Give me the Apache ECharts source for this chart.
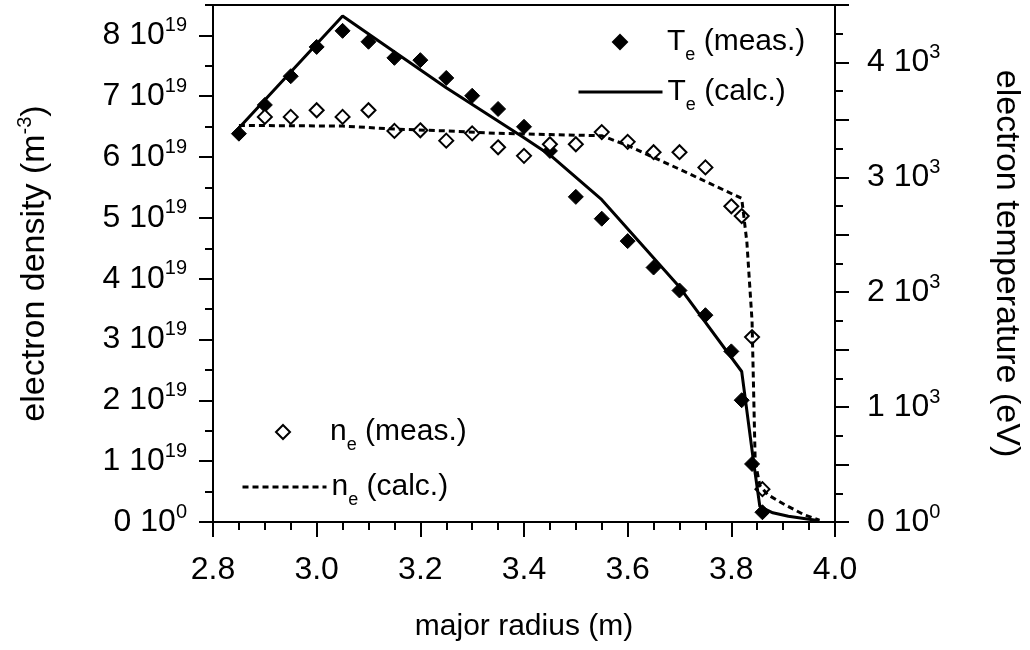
<!DOCTYPE html>
<html>
<head>
<meta charset="utf-8">
<script src="https://cdn.jsdelivr.net/npm/echarts@6/dist/echarts.min.js"></script>
<style>
html, body { margin: 0; padding: 0; background: #fff; }
#chart { width: 1030px; height: 650px; }
</style>
</head>
<body>
<div id="chart"></div>
<script>
// Te measured (eV)
var teMeasR = [2.85, 2.90, 2.95, 3.00, 3.05, 3.10, 3.15, 3.20, 3.25, 3.30, 3.35, 3.40, 3.45, 3.50, 3.55, 3.60, 3.65, 3.70, 3.75, 3.80, 3.82, 3.84, 3.86];
var teMeas = [3380, 3630, 3880, 4135, 4275, 4180, 4040, 4020, 3865, 3710, 3595, 3440, 3230, 2830, 2640, 2445, 2215, 2015, 1800, 1485, 1060, 505, 85];
// Te calculated (eV)
var teCalcR = [2.85, 3.05, 3.25, 3.40, 3.45, 3.55, 3.70, 3.82, 3.843, 3.855, 3.88, 3.91, 3.97];
var teCalc = [3430, 4405, 3780, 3345, 3195, 2805, 2045, 1310, 520, 135, 80, 50, 10];
// ne measured (10^19 m^-3)
var neMeasR = [2.90, 2.95, 3.00, 3.05, 3.10, 3.15, 3.20, 3.25, 3.30, 3.35, 3.40, 3.45, 3.50, 3.55, 3.60, 3.65, 3.70, 3.75, 3.80, 3.82, 3.84, 3.86];
var neMeas = [6.66, 6.66, 6.77, 6.66, 6.77, 6.43, 6.44, 6.27, 6.39, 6.16, 6.02, 6.21, 6.21, 6.41, 6.25, 6.08, 6.08, 5.83, 5.19, 5.03, 3.04, 0.54];
// ne calculated (10^19 m^-3)
var neCalcR = [2.85, 3.05, 3.15, 3.25, 3.35, 3.45, 3.55, 3.60, 3.70, 3.82, 3.83, 3.84, 3.846, 3.855, 3.87, 3.90, 3.94, 3.97];
var neCalc = [6.52, 6.51, 6.46, 6.43, 6.39, 6.37, 6.35, 6.19, 5.80, 5.32, 4.60, 3.30, 1.00, 0.60, 0.45, 0.30, 0.12, 0.03];

// axis ticks
var neMajorTicks = [0, 1, 2, 3, 4, 5, 6, 7, 8];
var teMajorTicks = [0, 500, 1000, 1500, 2000, 2500, 3000, 3500, 4000, 4500];
var teLabelTicks = [0, 1000, 2000, 3000, 4000];

function pairs(xs, ys) {
	var out = [];
	for (var i = 0; i < xs.length; i++) out.push([xs[i], ys[i]]);
	return out;
}

var FONT = '"Liberation Sans", Arial, Helvetica, sans-serif';
var supRich = {
	b: { fontSize: 32, lineHeight: 40, fontFamily: FONT, color: '#000' },
	p: { fontSize: 20, lineHeight: 20, verticalAlign: 'top', fontFamily: FONT, color: '#000' }
};
var legRich = {
	m: { fontSize: 30, lineHeight: 44, fontFamily: FONT, color: '#000' },
	s: { fontSize: 18, lineHeight: 18, verticalAlign: 'bottom', fontFamily: FONT, color: '#000' }
};
function legFmt(name) {
	return '{m|' + name.charAt(0) + '}{s|e}{m|' + name.slice(2) + '}';
}
// one legend per entry so the diamond keeps its shape and the text lines up
function legendItem(name, left, top, w, pad) {
	return {
		data: [name],
		left: left, top: top,
		itemWidth: w, itemHeight: 14,
		lineStyle: { width: 3 },
		formatter: legFmt,
		textStyle: { rich: legRich, padding: [0, 0, 0, pad] }
	};
}

var myChart = echarts.init(document.getElementById('chart'));
var option = {
	backgroundColor: '#fff',
	animation: false,
	grid: {
		left: 213, right: 195, top: 5, bottom: 128,
		show: true, borderColor: '#000', borderWidth: 2,
		outerBoundsMode: 'none'
	},
	legend: [
		legendItem('Te (meas.)', 607, 22, 14, 35),
		legendItem('Te (calc.)', 572, 72, 84, 0),
		legendItem('ne (meas.)', 270, 412, 14, 35),
		legendItem('ne (calc.)', 236, 467, 84, 0)
	],
	xAxis: {
		type: 'value',
		min: 2.8, max: 4.0, interval: 0.2,
		name: 'major radius (m)',
		nameLocation: 'middle',
		nameGap: 90,
		nameTextStyle: { fontSize: 30, fontFamily: FONT, color: '#000' },
		axisLine: { lineStyle: { color: '#000', width: 2 } },
		axisTick: { length: 15, lineStyle: { color: '#000', width: 2 } },
		minorTick: { show: true, splitNumber: 4, length: 8, lineStyle: { color: '#000', width: 2 } },
		splitLine: { show: false },
		axisLabel: {
			margin: 32, fontSize: 32, fontFamily: FONT, color: '#000',
			formatter: function (v) { return v.toFixed(1); }
		}
	},
	yAxis: [{
		// electron density, major ticks + labels
		type: 'value', position: 'left',
		min: 0, max: 8.5, interval: 0.5,
		name: '{n|electron density (m}{p|-3}{n|)}',
		nameLocation: 'middle',
		nameGap: 158,
		nameTextStyle: {
			rich: {
				n: { fontSize: 34, lineHeight: 40, fontFamily: FONT, color: '#000' },
				p: { fontSize: 20, lineHeight: 20, verticalAlign: 'top', fontFamily: FONT, color: '#000' }
			}
		},
		axisLine: { show: true, lineStyle: { color: '#000', width: 2 } },
		axisTick: { length: 14, customValues: neMajorTicks, lineStyle: { color: '#000', width: 2 } },
		splitLine: { show: false },
		axisLabel: {
			margin: 26, customValues: neMajorTicks, rich: supRich,
			formatter: function (v) {
				return v === 0 ? '{b|0 10}{p|0}' : '{b|' + v + ' 10}{p|19}';
			}
		}
	}, {
		// electron temperature, major ticks + labels
		type: 'value', position: 'right',
		min: 0, max: 4500, interval: 250,
		name: 'electron temperature (eV)',
		nameLocation: 'middle',
		nameRotate: -90,
		nameGap: 154,
		nameTextStyle: { fontSize: 34, fontFamily: FONT, color: '#000' },
		axisLine: { show: true, lineStyle: { color: '#000', width: 2 } },
		axisTick: { length: 14, customValues: teMajorTicks, lineStyle: { color: '#000', width: 2 } },
		splitLine: { show: false },
		axisLabel: {
			margin: 32, customValues: teLabelTicks, rich: supRich,
			formatter: function (v) {
				return v === 0 ? '{b|0 10}{p|0}' : '{b|' + (v / 1000) + ' 10}{p|3}';
			}
		}
	}, {
		// density minor ticks
		type: 'value', position: 'left',
		min: 0, max: 8.5, interval: 0.5,
		axisLine: { show: false },
		axisTick: { show: true, length: 8, lineStyle: { color: '#000', width: 2 } },
		axisLabel: { show: false },
		splitLine: { show: false }
	}, {
		// temperature minor ticks
		type: 'value', position: 'right',
		min: 0, max: 4500, interval: 250,
		axisLine: { show: false },
		axisTick: { show: true, length: 8, lineStyle: { color: '#000', width: 2 } },
		axisLabel: { show: false },
		splitLine: { show: false }
	}],
	series: [{
		name: 'ne (calc.)',
		type: 'line',
		yAxisIndex: 0,
		symbol: 'none',
		data: pairs(neCalcR, neCalc),
		itemStyle: { color: 'rgba(0,0,0,0)', borderWidth: 0 },
		lineStyle: { color: '#000', width: 3, type: [6, 4] }
	}, {
		name: 'Te (calc.)',
		type: 'line',
		yAxisIndex: 1,
		symbol: 'none',
		data: pairs(teCalcR, teCalc),
		itemStyle: { color: 'rgba(0,0,0,0)', borderWidth: 0 },
		lineStyle: { color: '#000', width: 3 }
	}, {
		name: 'Te (meas.)',
		type: 'scatter',
		yAxisIndex: 1,
		symbol: 'diamond',
		symbolSize: 15,
		data: pairs(teMeasR, teMeas),
		itemStyle: { color: '#000', borderColor: '#000', borderWidth: 1, opacity: 1 }
	}, {
		name: 'ne (meas.)',
		type: 'scatter',
		yAxisIndex: 0,
		symbol: 'diamond',
		symbolSize: 14,
		data: pairs(neMeasR, neMeas),
		itemStyle: { color: '#fff', borderColor: '#000', borderWidth: 2, opacity: 1 }
	}]
};
myChart.setOption(option);
</script>
</body>
</html>
